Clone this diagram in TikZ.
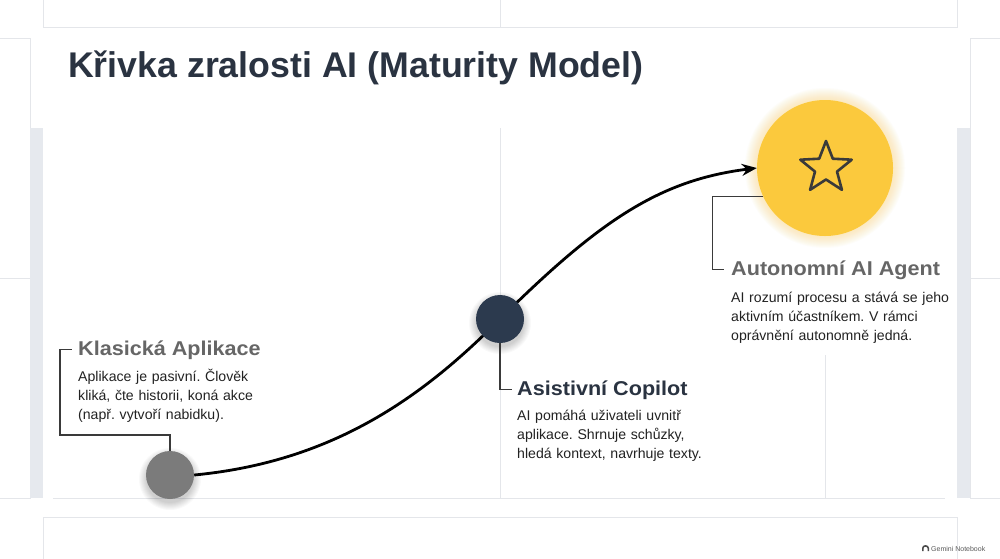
\documentclass[tikz,border=0pt]{standalone}
\usepackage{fontspec}
\setmainfont{Liberation Sans}
\newfontfamily\headfont[FakeStretch=1.08]{Liberation Sans}
\usetikzlibrary{arrows.meta}
\definecolor{titlecol}{HTML}{2A3341}
\definecolor{navycol}{HTML}{2C3A4E}
\definecolor{graycirc}{HTML}{7B7B7B}
\definecolor{goldcol}{HTML}{FBC93D}
\definecolor{panelcol}{HTML}{E4E6EA}
\definecolor{barcol}{HTML}{E6E9EE}
\definecolor{bodycol}{HTML}{222222}
\definecolor{headgray}{HTML}{666666}
\definecolor{conncol}{HTML}{3A3A3A}
\pgfdeclarelayer{bg}
\pgfsetlayers{bg,main}
\frenchspacing
\tikzset{
  panel/.style={draw=panelcol, line width=1pt},
  stage/.style={circle, inner sep=0pt, minimum size=#1},
  conn/.style={draw=conncol, line width=1.1pt},
  heading/.style={anchor=base west, inner sep=0pt, font=\headfont\bfseries\fontsize{20}{24}\selectfont},
  body/.style={anchor=base west, inner sep=0pt, text width=260pt, align=left, text=bodycol, font=\frenchspacing\fontsize{14.1}{19}\selectfont},
  curve/.style={line width=2.8pt, -{Stealth[length=15pt,width=12pt]}},
}
\begin{document}
\begin{tikzpicture}[x=1pt,y=-1pt]
\useasboundingbox (0,0) rectangle (1000,558);
\begin{pgfonlayer}{bg}
\fill[white] (0,0) rectangle (1000,558);
% background panels
\draw[panel] (43,-3) rectangle (957,27);
\draw[panel] (500,-3) -- (500,27);
\draw[panel] (-3,38) rectangle (30,498);
\draw[panel] (-3,278) -- (30,278);
\draw[panel] (970,38) rectangle (1003,498);
\draw[panel] (970,278) -- (1003,278);
\fill[barcol] (30,128) rectangle (43,498);
\fill[barcol] (957,128) rectangle (970,498);
\draw[panel] (53,498) -- (945,498);
\draw[panel] (500,128) -- (500,498);
\draw[panel] (825,355) -- (825,498);
\draw[panel] (43,517) rectangle (957,561);
% glow and shadows
\foreach \r in {69,70,...,80} \fill[goldcol, opacity=0.028] (825,168) circle (\r);
\foreach \r in {24,25,...,31} \fill[black, opacity=0.022] (170,479) circle (\r);
\foreach \r in {24,25,...,31} \fill[black, opacity=0.022] (500,323) circle (\r);
\end{pgfonlayer}

% stages
\node[stage=48pt, fill=graycirc] (c1) at (170,475) {};
\node[stage=48pt, fill=navycol] (c2) at (500,319) {};
\node[stage=136pt, fill=goldcol] (c3) at (825,168) {};
\draw[conncol, line width=2.6pt, line join=round]
  (826,141) -- (832.8,158.7) -- (851.7,159.7) -- (837,171.6) -- (841.9,189.8)
  -- (826,179.5) -- (810.1,189.8) -- (815,171.6) -- (800.3,159.7) -- (819.2,158.7) -- cycle;

% curve
\begin{pgfonlayer}{bg}
\draw[curve] (c1.east) .. controls (330,462) and (420,400) .. (c2.center)
  .. controls (600,220) and (660,180) .. (c3.west);
\end{pgfonlayer}

% title
\node[anchor=base west, inner sep=0pt, text=titlecol, font=\bfseries\fontsize{35.7}{40}\selectfont] (title) at (68,77) {Křivka zralosti AI (Maturity Model)};

% texts
\node[heading, text=headgray] (t1) at (78,355) {Klasická Aplikace};
\node[body] (b1) at (78,381) {Aplikace je pasivní. Člověk\\kliká, čte historii, koná akce\\(např. vytvoří nabidku).};

\node[heading, text=titlecol] (t2) at (517,395) {Asistivní Copilot};
\node[body] (b2) at (517,420) {AI pomáhá uživateli uvnitř\\aplikace. Shrnuje schůzky,\\hledá kontext, navrhuje texty.};

\node[heading, text=headgray] (t3) at (731,275) {Autonomní AI Agent};
\node[body] (b3) at (731,302) {AI rozumí procesu a stává se jeho\\aktivním účastníkem. V rámci\\oprávnění autonomně jedná.};

% connectors
\draw[conn] (c1.north) -- (170,435) -- (60,435) |- ([xshift=-6pt]t1.west);
\draw[conn] (c2.south) |- ([xshift=-5pt]t2.west);
\draw[conn] (c3.205) -- ++(-51,0) |- ([xshift=-7pt]t3.west);

% footer
\node[anchor=base west, inner sep=0pt, text=black!65, font=\fontsize{7}{8}\selectfont] (logo) at (931,551) {Gemini Notebook};
\fill[black!70] (922,551) -- (922,548) arc (180:360:3.5 and 3) -- (929,551) -- (927.5,551) -- (927.5,548.5) arc (360:180:2 and 1.8) -- (923.5,551) -- cycle;
\end{tikzpicture}
\end{document}
